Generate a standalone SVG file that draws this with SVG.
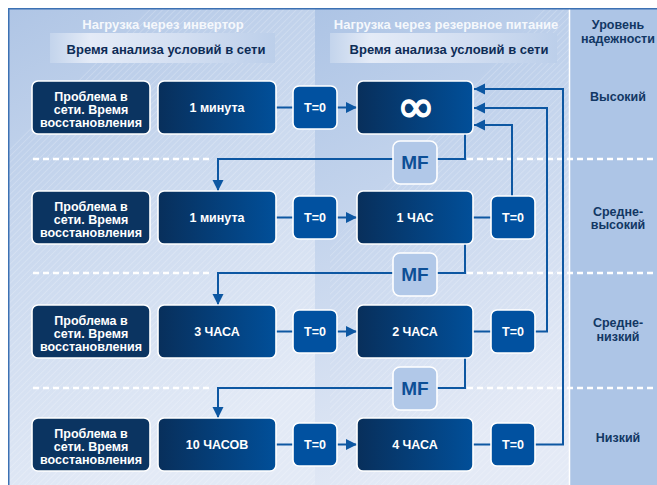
<svg xmlns="http://www.w3.org/2000/svg" width="657" height="485" viewBox="0 0 657 485">
  <defs>
    <linearGradient id="leftBg" x1="0" y1="0" x2="0.35" y2="1">
      <stop offset="0" stop-color="#afc5e5"/>
      <stop offset="0.45" stop-color="#c9d8ee"/>
      <stop offset="1" stop-color="#e3eaf6"/>
    </linearGradient>
    <linearGradient id="midBg" x1="0" y1="0" x2="0.3" y2="1">
      <stop offset="0" stop-color="#adc4e5"/>
      <stop offset="0.4" stop-color="#c2d3ec"/>
      <stop offset="1" stop-color="#e4eaf6"/>
    </linearGradient>
    <linearGradient id="headBox" x1="0" y1="0" x2="1" y2="0">
      <stop offset="0" stop-color="#c3d4ec"/>
      <stop offset="0.18" stop-color="#e4ebf7"/>
      <stop offset="0.6" stop-color="#d2def1"/>
      <stop offset="1" stop-color="#bccfea"/>
    </linearGradient>
    <linearGradient id="navyBox" x1="0" y1="0" x2="1" y2="0">
      <stop offset="0" stop-color="#082f5b"/>
      <stop offset="1" stop-color="#014f99"/>
    </linearGradient>
    <pattern id="hatch" patternUnits="userSpaceOnUse" width="4.5" height="4.5" patternTransform="rotate(45)">
      <line x1="0" y1="0" x2="0" y2="4.5" stroke="#ffffff" stroke-width="0.8" stroke-opacity="0.45"/>
    </pattern>
    <marker id="arrow" markerUnits="userSpaceOnUse" markerWidth="12" markerHeight="12" viewBox="0 0 12 12" refX="11" refY="6" orient="auto">
      <path d="M0,0.5 L11,6 L0,11.5 Z" fill="#0d57a2"/>
    </marker>
  </defs>
  <style>
    text { font-family: "Liberation Sans", Arial, sans-serif; font-weight: bold; text-anchor: middle; }
    .head { fill: #f5f8fc; font-size: 13px; }
    .sub { fill: #0d2c56; font-size: 13px; }
    .level { fill: #123764; font-size: 12.5px; }
    .wt { fill: #ffffff; font-size: 12.5px; }
    .inf { fill: #ffffff; stroke: #ffffff; stroke-width: 1.4; font-size: 46px; font-weight: normal; font-family: "DejaVu Sans", sans-serif; }
    .prob { fill: #0b3461; stroke: #ffffff; stroke-width: 1.6; }
    .time { fill: url(#navyBox); stroke: #ffffff; stroke-width: 1.6; }
    .t0 { fill: #0151a0; stroke: #ffffff; stroke-width: 1.6; }
    .mf { fill: #b1c8e8; stroke: #ffffff; stroke-width: 1.6; }
    .mft { fill: #0d4f96; font-size: 19px; }
    .conn { fill: none; stroke: #0d57a2; stroke-width: 2; }
    .arr { marker-end: url(#arrow); }
    .dash { stroke: #ffffff; stroke-width: 2.5; stroke-dasharray: 6 4; }
  </style>

  <!-- page -->
  <rect x="0" y="0" width="657" height="485" fill="#ffffff"/>

  <!-- panels -->
  <rect x="8" y="8" width="308" height="477" fill="url(#leftBg)"/>
  <polygon points="150,8 316,8 316,485 8,485 8,150" fill="url(#hatch)"/>
  <rect x="315" y="8" width="254" height="477" fill="url(#midBg)"/>
  <polygon points="545,8 569,8 569,485 330,485 330,245" fill="url(#hatch)"/>
  <rect x="570" y="8" width="87" height="477" fill="#adc5e6"/>
  <line x1="569.5" y1="8" x2="569.5" y2="485" stroke="#ffffff" stroke-width="1.5"/>
  <path d="M8.75,485 V8.75 H657" fill="none" stroke="#3c71b3" stroke-width="1.5"/>

  <!-- column headings -->
  <g id="heading-inverter">
    <text class="head" x="163" y="29">Нагрузка через инвертор</text>
    <rect x="50" y="33" width="225" height="30" fill="url(#headBox)"/>
    <text class="sub" x="166" y="54">Время анализа условий в сети</text>
  </g>
  <g id="heading-reserve">
    <text class="head" x="446" y="29">Нагрузка через резервное питание</text>
    <rect x="330" y="33" width="227" height="30" fill="url(#headBox)"/>
    <text class="sub" x="449" y="54">Время анализа условий в сети</text>
  </g>
  <g id="heading-level">
    <text class="level" x="618" y="29">Уровень</text>
    <text class="level" x="618" y="43">надежности</text>
  </g>

  <!-- reliability levels -->
  <g id="level-high"><text class="level" x="618" y="101">Высокий</text></g>
  <g id="level-mid-high"><text class="level" x="618" y="216">Средне-</text><text class="level" x="618" y="229">высокий</text></g>
  <g id="level-mid-low"><text class="level" x="618" y="327">Средне-</text><text class="level" x="618" y="341">низкий</text></g>
  <g id="level-low"><text class="level" x="618" y="442">Низкий</text></g>

  <!-- row separators -->
  <g id="separators">
    <line class="dash" x1="33" y1="159" x2="212" y2="159"/>
    <line class="dash" x1="467" y1="159" x2="657" y2="159"/>
    <line class="dash" x1="33" y1="273" x2="212" y2="273"/>
    <line class="dash" x1="467" y1="273" x2="657" y2="273"/>
    <line class="dash" x1="33" y1="388" x2="212" y2="388"/>
    <line class="dash" x1="467" y1="388" x2="657" y2="388"/>
  </g>

  <!-- connectors -->
  <g id="connectors">
    <path class="conn" d="M276,107.5 H293"/>
    <path class="conn arr" d="M337,107.5 H357"/>
    <path class="conn" d="M276,217.5 H293"/>
    <path class="conn arr" d="M337,217.5 H357"/>
    <path class="conn" d="M473,217.5 H491"/>
    <path class="conn" d="M276,331.5 H293"/>
    <path class="conn arr" d="M337,331.5 H357"/>
    <path class="conn" d="M473,331.5 H491"/>
    <path class="conn" d="M276,444.5 H293"/>
    <path class="conn arr" d="M337,444.5 H357"/>
    <path class="conn" d="M473,444.5 H491"/>
    <path class="conn arr" d="M465,134 V159 H218 V191"/>
    <path class="conn arr" d="M465,244 V273 H218 V305"/>
    <path class="conn arr" d="M465,358 V388 H218 V418"/>
    <path class="conn arr" d="M512,196 V125 H474"/>
    <path class="conn arr" d="M535,331.5 H547 V108 H474"/>
    <path class="conn arr" d="M535,444.5 H563 V89 H474"/>
  </g>

  <!-- row 1 -->
  <g id="problem-1"><rect class="prob" x="32" y="81" width="118" height="53" rx="6"/>
    <text class="wt" x="91" y="101">Проблема в</text><text class="wt" x="91" y="114">сети. Время</text><text class="wt" x="91" y="127">восстановления</text></g>
  <g id="inverter-1"><rect class="time" x="158" y="81" width="118" height="53" rx="6"/><text class="wt" x="217" y="112">1 минута</text></g>
  <g id="switch-1"><rect class="t0" x="293" y="86" width="44" height="43" rx="6"/><text class="wt" x="315" y="112">T=0</text></g>
  <g id="reserve-1"><rect class="time" x="357" y="81" width="116" height="53" rx="6"/><text class="inf" x="416" y="122">∞</text></g>

  <!-- row 2 -->
  <g id="problem-2"><rect class="prob" x="32" y="191" width="118" height="53" rx="6"/>
    <text class="wt" x="91" y="211">Проблема в</text><text class="wt" x="91" y="224">сети. Время</text><text class="wt" x="91" y="237">восстановления</text></g>
  <g id="inverter-2"><rect class="time" x="158" y="191" width="118" height="53" rx="6"/><text class="wt" x="217" y="222">1 минута</text></g>
  <g id="switch-2"><rect class="t0" x="293" y="196" width="44" height="43" rx="6"/><text class="wt" x="315" y="222">T=0</text></g>
  <g id="reserve-2"><rect class="time" x="357" y="191" width="116" height="53" rx="6"/><text class="wt" x="415" y="222">1 ЧАС</text></g>
  <g id="return-2"><rect class="t0" x="491" y="196" width="44" height="43" rx="6"/><text class="wt" x="513" y="222">T=0</text></g>

  <!-- row 3 -->
  <g id="problem-3"><rect class="prob" x="32" y="305" width="118" height="53" rx="6"/>
    <text class="wt" x="91" y="325">Проблема в</text><text class="wt" x="91" y="338">сети. Время</text><text class="wt" x="91" y="351">восстановления</text></g>
  <g id="inverter-3"><rect class="time" x="158" y="305" width="118" height="53" rx="6"/><text class="wt" x="217" y="336">3 ЧАСА</text></g>
  <g id="switch-3"><rect class="t0" x="293" y="310" width="44" height="43" rx="6"/><text class="wt" x="315" y="336">T=0</text></g>
  <g id="reserve-3"><rect class="time" x="357" y="305" width="116" height="53" rx="6"/><text class="wt" x="415" y="336">2 ЧАСА</text></g>
  <g id="return-3"><rect class="t0" x="491" y="310" width="44" height="43" rx="6"/><text class="wt" x="513" y="336">T=0</text></g>

  <!-- row 4 -->
  <g id="problem-4"><rect class="prob" x="32" y="418" width="118" height="53" rx="6"/>
    <text class="wt" x="91" y="438">Проблема в</text><text class="wt" x="91" y="451">сети. Время</text><text class="wt" x="91" y="464">восстановления</text></g>
  <g id="inverter-4"><rect class="time" x="158" y="418" width="118" height="53" rx="6"/><text class="wt" x="217" y="449">10 ЧАСОВ</text></g>
  <g id="switch-4"><rect class="t0" x="293" y="423" width="44" height="43" rx="6"/><text class="wt" x="315" y="449">T=0</text></g>
  <g id="reserve-4"><rect class="time" x="357" y="418" width="116" height="53" rx="6"/><text class="wt" x="415" y="449">4 ЧАСА</text></g>
  <g id="return-4"><rect class="t0" x="491" y="423" width="44" height="43" rx="6"/><text class="wt" x="513" y="449">T=0</text></g>

  <!-- MF switches -->
  <g id="mf-1"><rect class="mf" x="393" y="141" width="44" height="43" rx="7"/><text class="mft" x="415" y="169">MF</text></g>
  <g id="mf-2"><rect class="mf" x="393" y="253" width="44" height="43" rx="7"/><text class="mft" x="415" y="281">MF</text></g>
  <g id="mf-3"><rect class="mf" x="393" y="367" width="44" height="43" rx="7"/><text class="mft" x="415" y="395">MF</text></g>
</svg>
